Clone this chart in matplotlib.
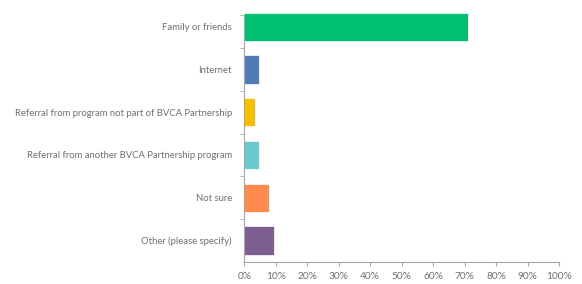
import matplotlib.pyplot as plt
from matplotlib.ticker import PercentFormatter

categories = ["Family or friends", "Internet",
              "Referral from program not part of BVCA Partnership",
              "Referral from another BVCA Partnership program",
              "Not sure", "Other (please specify)"]
values = [71, 4.7, 3.4, 4.7, 7.7, 9.5]
colors = ["#00BF6F", "#507CB6", "#F9BE00", "#6BC8CD", "#FF8B4F", "#7D5E90"]
xticks = [0, 10, 20, 30, 40, 50, 60, 70, 80, 90, 100]

plt.rcParams['font.family'] = ['Lato', 'DejaVu Sans']
fig = plt.figure(figsize=(5.82, 2.84), dpi=100)
ax = fig.add_axes([0.42, 0.078, 0.5405, 0.903])

ax.barh(range(len(categories)), values, height=0.66, color=colors,
        edgecolor="white", linewidth=0.5)
ax.set_ylim(5.5, -0.5)
ax.set_xlim(0, 100)

gray = "#A6A6A6"
for s in ["top", "right"]:
    ax.spines[s].set_visible(False)
ax.spines["left"].set_color(gray)
ax.spines["bottom"].set_color(gray)
ax.spines["left"].set_bounds(-0.28, 5.5)

ax.set_yticks(range(len(categories)))
ax.set_yticklabels(categories)
ax.set_yticks([-0.28, 0.5, 1.5, 2.5, 3.5, 4.5], minor=True)
ax.tick_params(axis="y", which="major", length=0, pad=9, labelsize=6.8, labelcolor="#707070")
ax.tick_params(axis="y", which="minor", length=3, color=gray)

ax.set_xticks(xticks)
ax.xaxis.set_major_formatter(PercentFormatter(decimals=0))
ax.tick_params(axis="x", length=3, color=gray, pad=4, labelsize=7.3, labelcolor="#707070")

fig.savefig("out.png", dpi=100)
